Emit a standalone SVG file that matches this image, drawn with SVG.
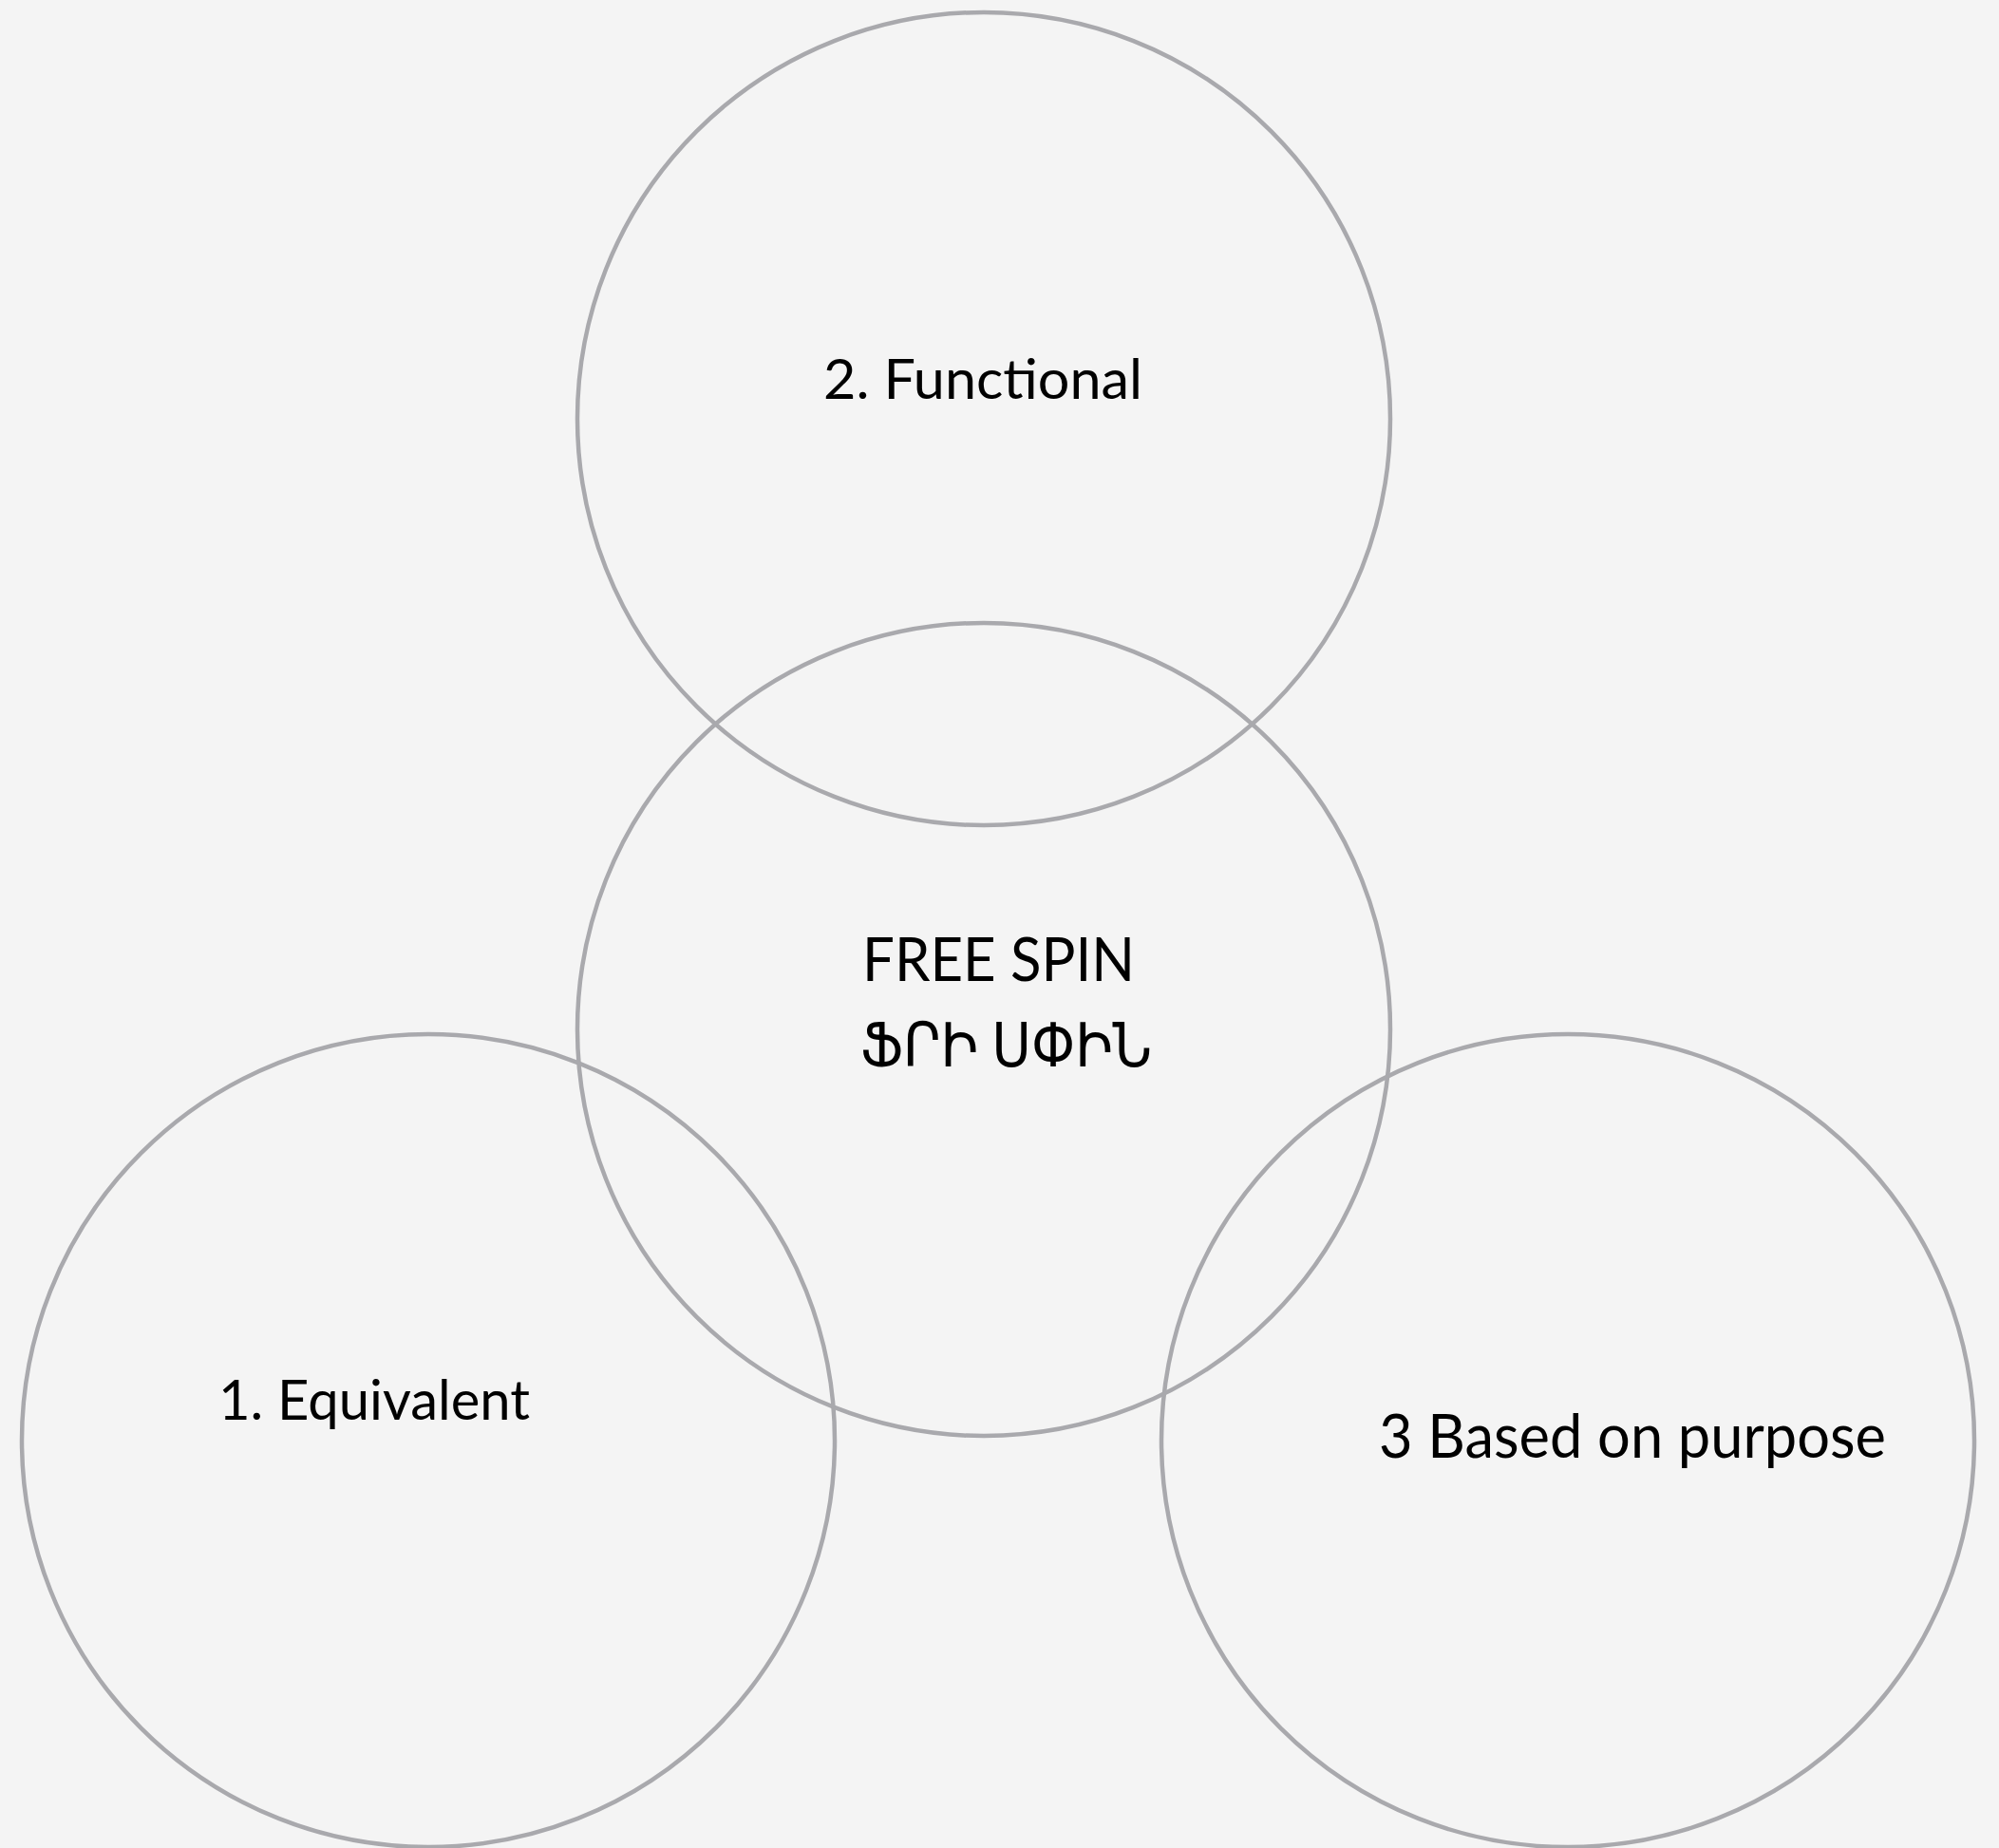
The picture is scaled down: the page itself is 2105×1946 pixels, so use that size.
<svg xmlns="http://www.w3.org/2000/svg" width="2105" height="1946" viewBox="0 0 2105 1946">
<style>
.c{fill:none;stroke:#A9A9AD;stroke-width:4.5}
.t{font-family:"Lato","Noto Sans","DejaVu Sans",sans-serif;fill:#000;font-size:58px}
.m{font-size:64px}
</style>
<rect width="2105" height="1946" fill="#F4F4F4"/>
<g id="top"><circle class="c" cx="1036" cy="441" r="428"/><text class="t" x="867" y="420" textLength="336" lengthAdjust="spacingAndGlyphs">2. Functional</text></g>
<g id="center"><circle class="c" cx="1036" cy="1084" r="428"/><text class="t m" x="908" y="1033" textLength="287" lengthAdjust="spacingAndGlyphs">FREE SPIN</text><text class="t m" x="906" y="1123" textLength="307" lengthAdjust="spacingAndGlyphs">ՖՐԻ ՍՓԻՆ</text></g>
<g id="left"><circle class="c" cx="451" cy="1517" r="428"/><text class="t" x="230" y="1495" textLength="328" lengthAdjust="spacingAndGlyphs">1. Equivalent</text></g>
<g id="right"><circle class="c" cx="1651" cy="1517" r="428"/><text class="t m" x="1452" y="1535" textLength="534" lengthAdjust="spacingAndGlyphs">3 Based on purpose</text></g>
<g id="connectors"/>
</svg>
